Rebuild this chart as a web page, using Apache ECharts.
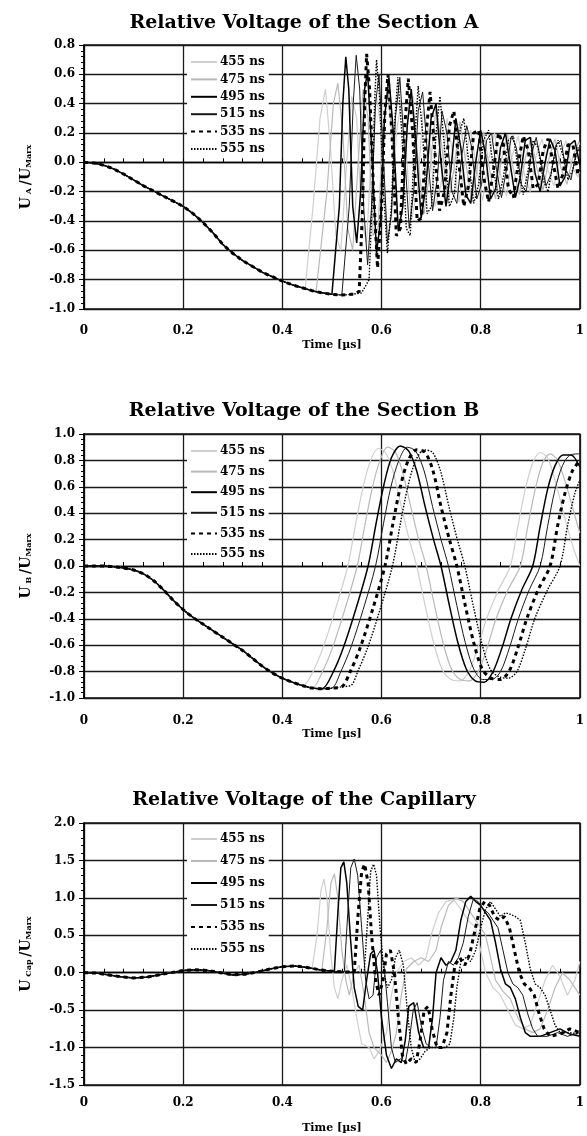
<!DOCTYPE html>
<html><head><meta charset="utf-8">
<script src="https://cdn.jsdelivr.net/npm/echarts@6/dist/echarts.min.js"></script>
<style>html,body{margin:0;padding:0;background:#fff}#c{width:587px;height:1136px}</style>
</head><body><div id="c"></div>
<script>
const seriesNames = ['455 ns','475 ns','495 ns','515 ns','535 ns','555 ns'];
const xTicks = [0, 0.2, 0.4, 0.6, 0.8, 1];

// ---------- Section A ----------
const baseA_t = [0,0.02,0.04,0.06,0.08,0.10,0.12,0.14,0.16,0.18,0.20,0.22,0.24,0.26,0.28,0.30,0.32,0.34,0.36,0.38,0.40,0.42,0.44,0.46,0.48,0.50,0.52,0.54,0.56];
const baseA_v = [0,-0.005,-0.02,-0.045,-0.08,-0.12,-0.16,-0.195,-0.23,-0.265,-0.30,-0.35,-0.41,-0.48,-0.56,-0.62,-0.67,-0.71,-0.75,-0.78,-0.81,-0.835,-0.855,-0.875,-0.89,-0.90,-0.905,-0.90,-0.89];
const a455 = [[0.446,-0.86],[0.462,-0.3],[0.476,0.3],[0.487,0.50],[0.497,0.1],[0.508,-0.5],[0.518,-0.6],[0.53,0.0],[0.54,0.45],[0.55,0.3],[0.56,-0.4],[0.57,-0.55],[0.58,0.1],[0.59,0.45],[0.6,0.2],[0.61,-0.45],[0.62,-0.4],[0.63,0.2],[0.64,0.42],[0.65,0.05],[0.66,-0.4],[0.672,-0.2],[0.684,0.35],[0.696,0.2],[0.708,-0.3],[0.72,-0.15],[0.732,0.3],[0.744,0.05],[0.756,-0.27],[0.768,0.0],[0.78,0.22],[0.792,-0.05],[0.804,-0.26],[0.816,0.02],[0.828,0.2],[0.84,-0.08],[0.852,-0.23],[0.864,0.05],[0.876,0.18],[0.888,-0.08],[0.9,-0.2],[0.912,0.05],[0.924,0.16],[0.936,-0.06],[0.948,-0.16],[0.96,0.04],[0.972,0.15],[0.984,-0.03],[0.996,-0.1],[1.0,-0.05]];
const a475 = [[0.468,-0.885],[0.49,-0.2],[0.503,0.4],[0.512,0.54],[0.522,0.2],[0.532,-0.45],[0.542,-0.6],[0.553,0.0],[0.563,0.5],[0.573,0.3],[0.583,-0.5],[0.593,-0.45],[0.603,0.2],[0.613,0.5],[0.623,0.1],[0.633,-0.45],[0.643,-0.3],[0.653,0.3],[0.663,0.45],[0.674,0.0],[0.686,-0.35],[0.698,-0.05],[0.71,0.38],[0.722,0.1],[0.734,-0.28],[0.746,-0.05],[0.758,0.28],[0.77,0.0],[0.782,-0.27],[0.794,-0.02],[0.806,0.21],[0.818,-0.05],[0.83,-0.25],[0.842,0.02],[0.854,0.19],[0.866,-0.05],[0.878,-0.22],[0.89,0.03],[0.902,0.17],[0.914,-0.05],[0.926,-0.19],[0.938,0.03],[0.95,0.16],[0.962,-0.04],[0.974,-0.15],[0.986,0.04],[0.998,0.14],[1.0,0.12]];
const a495 = [[0.504,-0.905],[0.515,-0.3],[0.522,0.4],[0.528,0.72],[0.534,0.5],[0.542,-0.3],[0.55,-0.55],[0.558,-0.2],[0.566,0.5],[0.572,0.62],[0.58,0.1],[0.59,-0.62],[0.598,-0.4],[0.606,0.3],[0.615,0.58],[0.624,0.2],[0.634,-0.47],[0.643,-0.3],[0.652,0.25],[0.66,0.5],[0.67,0.1],[0.68,-0.38],[0.69,-0.15],[0.70,0.3],[0.71,0.4],[0.72,0.0],[0.73,-0.3],[0.74,-0.05],[0.75,0.3],[0.76,0.1],[0.77,-0.22],[0.78,-0.28],[0.79,0.0],[0.80,0.22],[0.81,0.05],[0.82,-0.25],[0.83,-0.18],[0.84,0.1],[0.85,0.2],[0.86,-0.02],[0.87,-0.24],[0.88,-0.1],[0.89,0.15],[0.9,0.17],[0.91,-0.08],[0.92,-0.2],[0.93,0.0],[0.94,0.16],[0.95,0.08],[0.96,-0.16],[0.97,-0.1],[0.98,0.12],[0.99,0.15],[1.0,-0.02]];
const a515 = [[0.52,-0.905],[0.535,-0.3],[0.543,0.4],[0.549,0.73],[0.556,0.5],[0.564,-0.3],[0.572,-0.7],[0.58,-0.3],[0.588,0.4],[0.595,0.6],[0.603,0.1],[0.612,-0.55],[0.62,-0.35],[0.628,0.3],[0.637,0.58],[0.646,0.1],[0.656,-0.45],[0.665,-0.2],[0.674,0.35],[0.683,0.48],[0.693,0.05],[0.703,-0.33],[0.713,-0.1],[0.722,0.35],[0.732,0.2],[0.742,-0.2],[0.752,-0.28],[0.762,0.05],[0.772,0.25],[0.782,0.1],[0.792,-0.25],[0.802,-0.15],[0.812,0.15],[0.822,0.2],[0.832,-0.05],[0.842,-0.24],[0.852,-0.05],[0.862,0.18],[0.872,0.1],[0.882,-0.15],[0.892,-0.2],[0.902,0.05],[0.912,0.17],[0.922,0.0],[0.932,-0.16],[0.942,-0.08],[0.952,0.12],[0.962,0.15],[0.972,-0.05],[0.982,-0.12],[0.992,0.05],[1.0,0.1]];
const a535 = [[0.545,-0.9],[0.555,-0.88],[0.562,-0.3],[0.566,0.4],[0.570,0.74],[0.576,0.5],[0.584,-0.2],[0.592,-0.72],[0.6,-0.3],[0.607,0.35],[0.613,0.6],[0.621,0.2],[0.63,-0.5],[0.638,-0.45],[0.646,0.2],[0.654,0.57],[0.663,0.2],[0.672,-0.4],[0.681,-0.38],[0.69,0.2],[0.698,0.48],[0.707,0.1],[0.717,-0.33],[0.727,-0.2],[0.737,0.25],[0.746,0.35],[0.756,0.0],[0.766,-0.3],[0.776,-0.15],[0.786,0.2],[0.796,0.22],[0.806,-0.1],[0.816,-0.27],[0.826,-0.05],[0.836,0.2],[0.846,0.12],[0.856,-0.18],[0.866,-0.24],[0.876,0.0],[0.886,0.18],[0.896,0.08],[0.906,-0.18],[0.916,-0.15],[0.926,0.08],[0.936,0.16],[0.946,0.0],[0.956,-0.18],[0.966,-0.08],[0.976,0.12],[0.986,0.12],[0.996,-0.08],[1.0,-0.05]];
const a555 = [[0.562,-0.885],[0.575,-0.8],[0.582,-0.2],[0.586,0.4],[0.590,0.70],[0.596,0.45],[0.604,-0.2],[0.612,-0.62],[0.62,-0.3],[0.627,0.3],[0.633,0.58],[0.641,0.2],[0.65,-0.45],[0.658,-0.5],[0.666,0.1],[0.674,0.52],[0.683,0.2],[0.692,-0.35],[0.701,-0.3],[0.71,0.2],[0.718,0.45],[0.727,0.1],[0.737,-0.3],[0.747,-0.22],[0.757,0.2],[0.766,0.3],[0.776,0.0],[0.786,-0.28],[0.796,-0.15],[0.806,0.15],[0.816,0.22],[0.826,-0.05],[0.836,-0.25],[0.846,-0.1],[0.856,0.15],[0.866,0.18],[0.876,-0.05],[0.886,-0.22],[0.896,-0.05],[0.906,0.15],[0.916,0.1],[0.926,-0.12],[0.936,-0.2],[0.946,0.0],[0.956,0.15],[0.966,0.05],[0.976,-0.12],[0.986,-0.05],[0.996,0.1],[1.0,0.08]];

// ---------- Section B ----------
const baseB_t = [0,0.02,0.04,0.06,0.08,0.10,0.12,0.14,0.16,0.18,0.20,0.22,0.24,0.26,0.28,0.30,0.32,0.34,0.36,0.38,0.40,0.42,0.44,0.46,0.48,0.50,0.52,0.54];
const baseB_v = [0,0,0,-0.005,-0.015,-0.03,-0.06,-0.11,-0.18,-0.26,-0.33,-0.39,-0.44,-0.49,-0.54,-0.59,-0.64,-0.70,-0.76,-0.81,-0.85,-0.88,-0.905,-0.925,-0.93,-0.925,-0.915,-0.9];
const b455 = [[0.442,-0.905],[0.462,-0.80],[0.482,-0.62],[0.507,-0.33],[0.532,0.0],[0.548,0.32],[0.563,0.60],[0.578,0.80],[0.593,0.89],[0.608,0.86],[0.623,0.72],[0.640,0.45],[0.656,0.20],[0.671,0.0],[0.688,-0.30],[0.705,-0.58],[0.722,-0.78],[0.740,-0.86],[0.758,-0.87],[0.776,-0.80],[0.794,-0.62],[0.812,-0.40],[0.836,-0.18],[0.86,0.0],[0.875,0.3],[0.89,0.58],[0.905,0.78],[0.92,0.86],[0.935,0.82],[0.952,0.62],[0.97,0.36],[0.985,0.16],[1.0,0.0]];
const b475 = [[0.46,-0.925],[0.481,-0.80],[0.501,-0.62],[0.526,-0.33],[0.551,0.0],[0.567,0.32],[0.582,0.60],[0.597,0.80],[0.612,0.90],[0.627,0.87],[0.642,0.72],[0.659,0.45],[0.675,0.20],[0.69,0.0],[0.707,-0.30],[0.724,-0.58],[0.741,-0.78],[0.759,-0.86],[0.777,-0.87],[0.795,-0.80],[0.813,-0.62],[0.831,-0.40],[0.855,-0.18],[0.88,0.0],[0.895,0.3],[0.91,0.58],[0.925,0.78],[0.94,0.85],[0.955,0.8],[0.972,0.62],[0.99,0.38],[1.0,0.25]];
const b495 = [[0.48,-0.93],[0.503,-0.80],[0.523,-0.62],[0.548,-0.33],[0.573,0.0],[0.589,0.32],[0.604,0.60],[0.62,0.82],[0.638,0.91],[0.655,0.87],[0.671,0.72],[0.688,0.45],[0.705,0.20],[0.72,0.0],[0.737,-0.30],[0.754,-0.58],[0.771,-0.78],[0.789,-0.87],[0.807,-0.88],[0.825,-0.80],[0.843,-0.62],[0.861,-0.40],[0.883,-0.18],[0.905,0.0],[0.92,0.3],[0.935,0.58],[0.95,0.76],[0.966,0.84],[0.982,0.84],[1.0,0.75]];
const b515 = [[0.50,-0.925],[0.518,-0.80],[0.538,-0.62],[0.563,-0.33],[0.588,0.0],[0.604,0.32],[0.619,0.60],[0.635,0.8],[0.652,0.9],[0.669,0.87],[0.686,0.72],[0.703,0.45],[0.72,0.20],[0.735,0.0],[0.752,-0.30],[0.769,-0.58],[0.786,-0.78],[0.804,-0.86],[0.822,-0.86],[0.84,-0.80],[0.858,-0.62],[0.876,-0.40],[0.898,-0.18],[0.92,0.0],[0.935,0.3],[0.95,0.58],[0.965,0.76],[0.98,0.84],[1.0,0.85]];
const b535 = [[0.52,-0.915],[0.537,-0.80],[0.557,-0.62],[0.582,-0.33],[0.607,0.0],[0.623,0.32],[0.638,0.60],[0.654,0.8],[0.671,0.88],[0.688,0.86],[0.704,0.72],[0.72,0.45],[0.737,0.20],[0.752,0.0],[0.769,-0.30],[0.786,-0.58],[0.803,-0.78],[0.821,-0.85],[0.839,-0.86],[0.857,-0.80],[0.875,-0.62],[0.893,-0.40],[0.916,-0.18],[0.94,0.0],[0.955,0.3],[0.97,0.55],[0.985,0.72],[1.0,0.8]];
const b555 = [[0.54,-0.9],[0.552,-0.80],[0.572,-0.62],[0.597,-0.33],[0.622,0.0],[0.638,0.32],[0.653,0.60],[0.669,0.8],[0.686,0.88],[0.703,0.86],[0.719,0.72],[0.736,0.45],[0.753,0.20],[0.768,0.0],[0.785,-0.30],[0.802,-0.58],[0.819,-0.78],[0.837,-0.84],[0.855,-0.85],[0.873,-0.80],[0.891,-0.62],[0.909,-0.40],[0.935,-0.18],[0.96,0.0],[0.975,0.3],[0.99,0.55],[1.0,0.65]];

// ---------- Capillary ----------
const baseC_t = [0,0.025,0.05,0.075,0.1,0.125,0.15,0.175,0.2,0.225,0.25,0.275,0.3,0.325,0.35,0.375,0.4,0.425,0.45,0.475,0.5,0.525,0.55,0.575];
const baseC_v = [0,-0.005,-0.03,-0.055,-0.07,-0.06,-0.03,0.0,0.03,0.04,0.03,0.0,-0.03,-0.02,0.01,0.05,0.08,0.09,0.07,0.04,0.02,0.01,0.01,0.0];
const c455 = [[0.46,0.06],[0.47,0.5],[0.478,1.1],[0.484,1.25],[0.49,1.0],[0.497,0.3],[0.505,-0.2],[0.512,-0.35],[0.52,-0.1],[0.53,0.1],[0.54,-0.2],[0.55,-0.6],[0.56,-0.95],[0.575,-1.0],[0.585,-1.15],[0.595,-1.05],[0.61,-0.8],[0.62,-0.3],[0.63,0.0],[0.645,0.15],[0.66,0.2],[0.675,0.1],[0.69,0.2],[0.70,0.5],[0.715,0.8],[0.73,0.95],[0.745,0.98],[0.76,0.85],[0.775,0.7],[0.79,0.6],[0.80,0.3],[0.81,0.0],[0.825,-0.2],[0.84,-0.3],[0.855,-0.5],[0.87,-0.7],[0.885,-0.75],[0.9,-0.7],[0.915,-0.4],[0.93,-0.1],[0.945,0.1],[0.96,-0.05],[0.975,-0.3],[0.99,-0.1],[1.0,0.15]];
const c475 = [[0.48,0.05],[0.49,0.6],[0.498,1.2],[0.505,1.32],[0.512,1.0],[0.52,0.3],[0.528,-0.1],[0.535,-0.3],[0.545,0.0],[0.555,0.1],[0.565,-0.3],[0.575,-0.8],[0.585,-1.0],[0.6,-1.1],[0.61,-1.2],[0.62,-1.05],[0.63,-0.8],[0.64,-0.3],[0.65,0.05],[0.665,0.15],[0.68,0.2],[0.695,0.15],[0.71,0.3],[0.72,0.6],[0.735,0.9],[0.75,1.0],[0.765,0.95],[0.78,0.8],[0.795,0.65],[0.81,0.5],[0.82,0.2],[0.83,-0.1],[0.845,-0.25],[0.86,-0.35],[0.875,-0.6],[0.89,-0.75],[0.905,-0.8],[0.92,-0.75],[0.935,-0.5],[0.95,-0.2],[0.965,0.0],[0.98,-0.1],[1.0,-0.3]];
const c495 = [[0.505,0.02],[0.512,0.8],[0.518,1.4],[0.524,1.48],[0.53,1.2],[0.537,0.5],[0.545,-0.2],[0.553,-0.45],[0.562,-0.5],[0.57,-0.1],[0.578,0.25],[0.585,0.3],[0.592,0.0],[0.6,-0.6],[0.61,-1.1],[0.62,-1.28],[0.63,-1.15],[0.64,-1.2],[0.648,-0.9],[0.655,-0.45],[0.665,-0.4],[0.675,-0.8],[0.685,-1.0],[0.695,-1.0],[0.703,-0.6],[0.71,0.0],[0.72,0.2],[0.73,0.1],[0.74,0.15],[0.75,0.3],[0.76,0.7],[0.77,0.95],[0.78,1.02],[0.79,0.95],[0.80,0.9],[0.81,0.8],[0.82,0.7],[0.83,0.4],[0.84,0.05],[0.85,-0.15],[0.86,-0.2],[0.87,-0.35],[0.88,-0.6],[0.89,-0.8],[0.90,-0.85],[0.92,-0.85],[0.94,-0.8],[0.96,-0.75],[0.98,-0.82],[1.0,-0.85]];
const c515 = [[0.525,0.01],[0.532,0.8],[0.538,1.4],[0.545,1.52],[0.552,1.3],[0.56,0.6],[0.568,-0.1],[0.575,-0.35],[0.583,-0.3],[0.59,0.2],[0.598,0.3],[0.605,0.1],[0.612,-0.4],[0.62,-1.0],[0.628,-1.2],[0.638,-1.15],[0.648,-1.2],[0.656,-0.9],[0.664,-0.5],[0.672,-0.4],[0.68,-0.7],[0.69,-0.95],[0.70,-1.0],[0.71,-1.0],[0.718,-0.6],[0.725,-0.1],[0.735,0.15],[0.745,0.1],[0.755,0.2],[0.765,0.4],[0.775,0.75],[0.785,0.98],[0.795,0.95],[0.805,0.85],[0.815,0.8],[0.825,0.7],[0.835,0.6],[0.845,0.3],[0.855,0.0],[0.865,-0.15],[0.875,-0.2],[0.885,-0.3],[0.895,-0.55],[0.905,-0.75],[0.915,-0.85],[0.935,-0.85],[0.955,-0.8],[0.975,-0.85],[1.0,-0.8]];
const c535 = [[0.545,0.01],[0.553,0.8],[0.56,1.35],[0.566,1.45],[0.573,1.2],[0.58,0.5],[0.588,-0.1],[0.595,-0.3],[0.603,-0.1],[0.61,0.25],[0.618,0.3],[0.626,0.0],[0.634,-0.6],[0.642,-1.1],[0.65,-1.22],[0.66,-1.15],[0.67,-1.2],[0.678,-0.9],[0.686,-0.5],[0.694,-0.45],[0.702,-0.75],[0.712,-1.0],[0.722,-1.0],[0.732,-0.8],[0.74,-0.3],[0.748,0.1],[0.758,0.2],[0.768,0.1],[0.778,0.25],[0.788,0.55],[0.798,0.85],[0.808,0.95],[0.818,0.9],[0.828,0.75],[0.838,0.7],[0.848,0.75],[0.858,0.6],[0.868,0.3],[0.878,0.0],[0.888,-0.15],[0.898,-0.2],[0.908,-0.3],[0.918,-0.55],[0.928,-0.75],[0.94,-0.85],[0.96,-0.82],[0.98,-0.75],[1.0,-0.8]];
const c555 = [[0.565,0.0],[0.572,0.7],[0.578,1.35],[0.584,1.45],[0.59,1.3],[0.597,0.6],[0.605,0.0],[0.612,-0.2],[0.62,-0.1],[0.628,0.2],[0.636,0.3],[0.644,0.1],[0.652,-0.5],[0.66,-1.0],[0.668,-1.2],[0.678,-1.15],[0.688,-1.05],[0.698,-1.0],[0.708,-1.0],[0.718,-1.0],[0.728,-1.0],[0.738,-0.95],[0.746,-0.6],[0.752,-0.2],[0.76,0.15],[0.77,0.2],[0.78,0.15],[0.79,0.3],[0.8,0.6],[0.81,0.85],[0.82,0.95],[0.83,0.85],[0.84,0.75],[0.85,0.8],[0.86,0.78],[0.87,0.75],[0.88,0.7],[0.89,0.4],[0.9,0.05],[0.91,-0.15],[0.92,-0.2],[0.93,-0.3],[0.94,-0.5],[0.95,-0.7],[0.96,-0.8],[0.98,-0.8],[1.0,-0.82]];

// ---------- rendering ----------
const FONT = 'DejaVu Serif';
const lineStyles = [
  {color:'#cfcfcf', width:1.2, type:'solid'},
  {color:'#b9b9b9', width:1.2, type:'solid'},
  {color:'#000000', width:1.5, type:'solid'},
  {color:'#1a1a1a', width:1.0, type:'solid'},
  {color:'#000000', width:3.0, type:[4,4]},
  {color:'#000000', width:1.4, type:[1.5,1.5]}
];
const panels = [
  {title:'Relative Voltage of the Section A', titleY:23, top:45, h:264, yMin:-1, yMax:0.8, yStep:0.2,
   yName:'{u|U}{s| A }{u|/U}{s|Marx}', base:[baseA_t, baseA_v], tails:[a455,a475,a495,a515,a535,a555],
   smooth:false, legendTop:54, legendGap:5.4, labelMargin:16, nameGap:31},
  {title:'Relative Voltage of the Section B', titleY:411, top:434, h:264, yMin:-1, yMax:1, yStep:0.2,
   yName:'{u|U}{s| B }{u|/U}{s|Marx}', base:[baseB_t, baseB_v], tails:[b455,b475,b495,b515,b535,b555],
   smooth:0.3, legendTop:443, legendGap:8.6, labelMargin:17, nameGap:31},
  {title:'Relative Voltage of the Capillary', titleY:800, top:823, h:262, yMin:-1.5, yMax:2, yStep:0.5,
   yName:'{u|U}{s| Cap }{u|/U}{s|Marx}', base:[baseC_t, baseC_v], tails:[c455,c475,c495,c515,c535,c555],
   smooth:false, legendTop:831, legendGap:10, labelMargin:12, nameGap:38}
];

function assemble(bt, bv, tail) {
  const out = [];
  for (let i = 0; i < bt.length; i++) if (bt[i] < tail[0][0]) out.push([bt[i], bv[i]]);
  return out.concat(tail);
}

const grid = [], xAxis = [], yAxis = [], series = [], legend = [], graphic = [];
panels.forEach((p, g) => {
  grid.push({left:84, top:p.top, width:500, height:p.h, show:true, borderColor:'#111', borderWidth:1.3, backgroundColor:'transparent'});
  xAxis.push({
    type:'value', gridIndex:g, min:xTicks[0], max:xTicks[xTicks.length-1], interval:0.2, position:'bottom',
    axisLine:{show:false, onZero:false}, axisTick:{show:false},
    splitLine:{show:true, lineStyle:{color:'#1a1a1a', width:1.3}},
    axisLabel:{margin:p.labelMargin, color:'#000', fontFamily:FONT, fontWeight:'bold', fontSize:12,
      formatter:v => (Math.abs(v) < 1e-9 || Math.abs(v-1) < 1e-9) ? String(Math.round(v)) : v.toFixed(1)},
    name:'Time [\u00b5s]', nameLocation:'middle', nameGap:p.nameGap,
    nameTextStyle:{color:'#000', fontFamily:FONT, fontWeight:'bold', fontSize:11}
  });
  xAxis.push({
    type:'value', gridIndex:g, min:0, max:1, interval:0.2,
    axisLine:{show:true, onZero:true, onZeroAxisIndex:g, lineStyle:{color:'#000', width:1.3}},
    axisTick:{show:true, length:4, lineStyle:{color:'#000'}},
    minorTick:{show:true, splitNumber:5, length:4, lineStyle:{color:'#000', width:1}},
    axisLabel:{show:false}, splitLine:{show:false}
  });
  yAxis.push({
    type:'value', gridIndex:g, min:p.yMin, max:p.yMax, interval:p.yStep,
    axisLine:{show:true, onZero:false, lineStyle:{color:'#000', width:1.5}},
    axisTick:{show:true, length:5, lineStyle:{color:'#000'}},
    minorTick:{show:true, splitNumber:5, length:3, lineStyle:{color:'#000', width:1}},
    splitLine:{show:true, lineStyle:{color:'#1a1a1a', width:1.3}},
    axisLabel:{margin:9, color:'#000', fontFamily:FONT, fontWeight:'bold', fontSize:12, formatter:v => v.toFixed(1)},
    name:p.yName, nameLocation:'middle', nameRotate:90, nameGap:51,
    nameTextStyle:{color:'#000', fontFamily:FONT, fontWeight:'bold', fontSize:14,
      rich:{u:{fontFamily:FONT, fontWeight:'bold', fontSize:14, color:'#000'},
            s:{fontFamily:FONT, fontWeight:'bold', fontSize:8, color:'#000', verticalAlign:'bottom'}}}
  });
  p.tails.forEach((tail, k) => {
    const st = lineStyles[k];
    series.push({
      name:seriesNames[k], type:'line', xAxisIndex:2*g, yAxisIndex:g,
      data:assemble(p.base[0], p.base[1], tail), symbol:'none', showSymbol:false,
      smooth:p.smooth, color:st.color, lineStyle:st, z:2+k, animation:false
    });
  });
  legend.push({
    orient:'vertical', left:187, top:p.legendTop, itemWidth:26, itemHeight:12, itemGap:p.legendGap,
    backgroundColor:'#fff', padding:[2,4,2,3], data:seriesNames, selectedMode:false,
    itemStyle:{color:'rgba(0,0,0,0)', borderColor:'rgba(0,0,0,0)', borderWidth:0, opacity:0},
    textStyle:{color:'#000', fontFamily:FONT, fontWeight:'bold', fontSize:12, padding:[0,0,0,-2]}
  });
  graphic.push({type:'text', x:304, y:p.titleY, z:100,
    style:{text:p.title, fill:'#000', font:'bold 19px "DejaVu Serif"', align:'center', verticalAlign:'middle'}});
});

const chart = echarts.init(document.getElementById('c'), null, {renderer:'canvas'});
chart.setOption({animation:false, backgroundColor:'#fff', grid, xAxis, yAxis, series, legend, graphic});
</script></body></html>
